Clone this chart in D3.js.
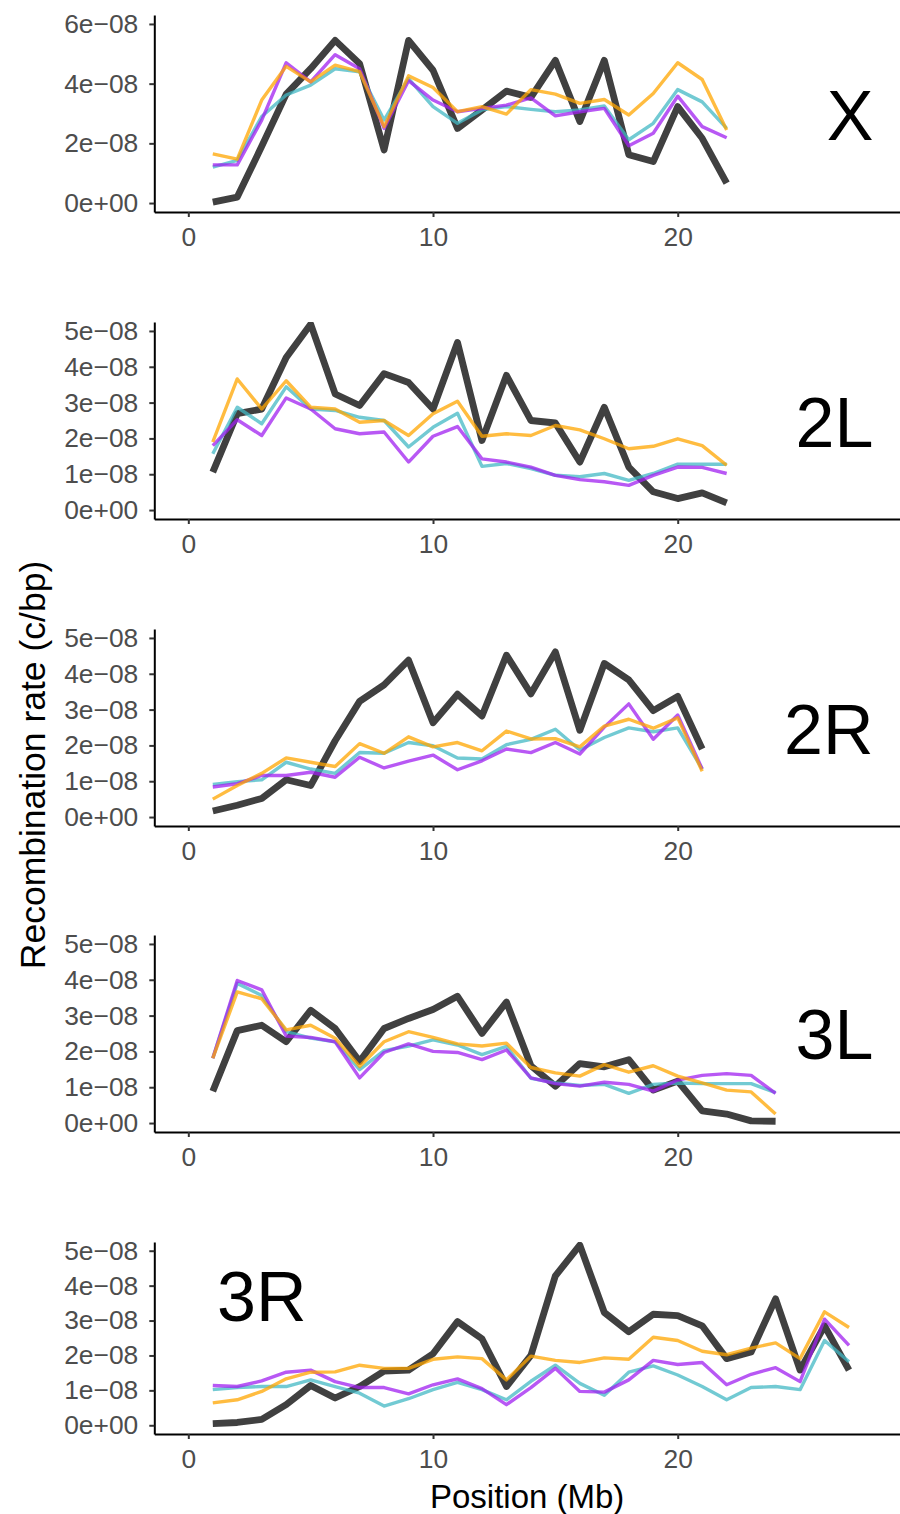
<!DOCTYPE html>
<html>
<head>
<meta charset="utf-8">
<script src="https://cdn.jsdelivr.net/npm/d3@7"></script>
<style>
  body { margin: 0; background: #fff; }
  svg { display: block; font-family: "Liberation Sans", Arial, Helvetica, sans-serif; }
</style>
</head>
<body>
<div id="chart"></div>
<script>
// Recombination rates, in units of 1e-8 c/bp
const positions = [1, 2, 3, 4, 5, 6, 7, 8, 9, 10, 11, 12, 13, 14, 15, 16, 17, 18, 19, 20, 21, 22, 23, 24, 25, 26, 27];
const chromosomes = ["X", "2L", "2R", "3L", "3R"];

const blackX  = [0.03, 0.2, 1.9, 3.65, 4.5, 5.45, 4.67, 1.78, 5.45, 4.45, 2.5, 3.12, 3.75, 3.54, 4.78, 2.73, 4.78, 1.62, 1.39, 3.23, 2.17, 0.67];
const cyanX   = [1.2, 1.43, 2.9, 3.62, 3.95, 4.5, 4.4, 2.78, 4.17, 3.23, 2.67, 3.12, 3.23, 3.14, 3.06, 3.12, 3.25, 2.12, 2.67, 3.8, 3.39, 2.5];
const purpleX = [1.28, 1.28, 2.78, 4.7, 4.06, 4.97, 4.5, 2.5, 4.1, 3.45, 3.06, 3.17, 3.28, 3.52, 2.92, 3.06, 3.17, 1.92, 2.34, 3.58, 2.56, 2.19];
const orangeX = [1.65, 1.47, 3.45, 4.58, 4.06, 4.62, 4.4, 2.56, 4.26, 3.87, 3.06, 3.23, 2.98, 3.8, 3.65, 3.34, 3.47, 2.95, 3.67, 4.7, 4.14, 2.45];

const black2L  = [1.06, 2.69, 2.82, 4.26, 5.19, 3.24, 2.92, 3.81, 3.56, 2.82, 4.68, 1.94, 3.76, 2.5, 2.43, 1.34, 2.87, 1.2, 0.51, 0.32, 0.48, 0.2];
const cyan2L   = [1.57, 2.87, 2.41, 3.44, 2.82, 2.78, 2.59, 2.5, 1.76, 2.31, 2.7, 1.22, 1.3, 1.16, 0.97, 0.93, 1.02, 0.83, 1.02, 1.28, 1.28, 1.28];
const purple2L = [1.8, 2.52, 2.08, 3.13, 2.82, 2.27, 2.13, 2.18, 1.34, 2.06, 2.33, 1.43, 1.34, 1.2, 0.97, 0.85, 0.79, 0.69, 0.97, 1.2, 1.19, 1.02];
const orange2L = [1.9, 3.66, 2.82, 3.61, 2.87, 2.82, 2.45, 2.5, 2.08, 2.69, 3.04, 2.06, 2.13, 2.08, 2.36, 2.24, 1.99, 1.71, 1.78, 1.99, 1.8, 1.25];

const black2R  = [0.17, 0.33, 0.52, 1.04, 0.88, 2.13, 3.23, 3.69, 4.38, 2.63, 3.43, 2.82, 4.52, 3.44, 4.61, 2.42, 4.29, 3.83, 2.97, 3.37, 1.9];
const cyan2R   = [0.91, 0.99, 1.04, 1.53, 1.34, 1.22, 1.8, 1.78, 2.08, 1.99, 1.65, 1.62, 2.02, 2.17, 2.45, 1.87, 2.22, 2.49, 2.38, 2.49, 1.34];
const purple2R = [0.84, 0.93, 1.16, 1.16, 1.25, 1.11, 1.67, 1.37, 1.56, 1.73, 1.32, 1.57, 1.9, 1.8, 2.08, 1.76, 2.51, 3.16, 2.17, 2.85, 1.34];
const orange2R = [0.5, 0.88, 1.22, 1.65, 1.53, 1.41, 2.05, 1.78, 2.24, 1.96, 2.08, 1.85, 2.4, 2.18, 2.19, 1.96, 2.54, 2.73, 2.48, 2.77, 1.28];

const black3L  = [0.89, 2.58, 2.73, 2.27, 3.15, 2.64, 1.72, 2.64, 2.92, 3.17, 3.54, 2.5, 3.38, 1.6, 1.03, 1.66, 1.57, 1.77, 0.92, 1.17, 0.34, 0.25, 0.06, 0.05];
const cyan3L   = [1.81, 3.9, 3.56, 2.55, 2.37, 2.27, 1.49, 2.02, 2.15, 2.32, 2.18, 1.91, 2.14, 1.25, 1.12, 1.05, 1.08, 0.83, 1.08, 1.12, 1.1, 1.1, 1.1, 0.85];
const purple3L = [1.81, 3.98, 3.72, 2.43, 2.39, 2.27, 1.26, 1.97, 2.21, 2.0, 1.97, 1.77, 2.04, 1.26, 1.1, 1.03, 1.14, 1.08, 0.89, 1.2, 1.33, 1.38, 1.33, 0.83];
const orange3L = [1.81, 3.66, 3.47, 2.6, 2.73, 2.37, 1.58, 2.27, 2.55, 2.39, 2.21, 2.15, 2.23, 1.55, 1.4, 1.31, 1.63, 1.42, 1.6, 1.31, 1.12, 0.92, 0.87, 0.25];

const black3R  = [0.05, 0.08, 0.17, 0.59, 1.14, 0.78, 1.11, 1.55, 1.58, 2.05, 2.97, 2.48, 1.11, 2.0, 4.28, 5.16, 3.23, 2.68, 3.18, 3.14, 2.85, 1.91, 2.1, 3.62, 1.58, 2.85, 1.58];
const cyan3R   = [1.02, 1.08, 1.11, 1.11, 1.3, 1.11, 0.92, 0.55, 0.76, 1.02, 1.23, 1.02, 0.73, 1.26, 1.72, 1.2, 0.86, 1.52, 1.7, 1.44, 1.11, 0.73, 1.08, 1.11, 1.02, 2.43, 1.82];
const purple3R = [1.14, 1.11, 1.27, 1.52, 1.58, 1.25, 1.08, 1.08, 0.9, 1.16, 1.33, 1.05, 0.59, 1.08, 1.63, 0.97, 0.95, 1.3, 1.86, 1.74, 1.8, 1.16, 1.46, 1.65, 1.25, 3.04, 2.29];
const orange3R = [0.64, 0.73, 0.97, 1.33, 1.52, 1.53, 1.72, 1.63, 1.63, 1.89, 1.96, 1.91, 1.3, 1.98, 1.86, 1.8, 1.93, 1.89, 2.52, 2.43, 2.12, 2.02, 2.21, 2.36, 1.91, 3.25, 2.8];

// axis limits and ticks
const xLimits = [0, 27.8];
const xTicks = [0, 10, 20];
const yLimitsX = [0, 6];
const yLimitsAuto = [0, 5];
const yTicksX = [0, 2, 4, 6];
const yTicksAuto = [0, 1, 2, 3, 4, 5];

const rates = {
  "X":  { black: blackX,  cyan: cyanX,  purple: purpleX,  orange: orangeX },
  "2L": { black: black2L, cyan: cyan2L, purple: purple2L, orange: orange2L },
  "2R": { black: black2R, cyan: cyan2R, purple: purple2R, orange: orange2R },
  "3L": { black: black3L, cyan: cyan3L, purple: purple3L, orange: orange3L },
  "3R": { black: black3R, cyan: cyan3R, purple: purple3R, orange: orange3R }
};

// layout
const W = 900, H = 1514;
const panelLeft = 154.3, panelRight = 902.6;
const panelTop = [15, 322, 629, 935, 1242];
const panelBottom = [212, 519, 826, 1132, 1434];
const labelPos = {
  "X":  { x: 28, y: 2.96, anchor: "end" },
  "2L": { x: 28, y: 2.46, anchor: "end" },
  "2R": { x: 28, y: 2.46, anchor: "end" },
  "3L": { x: 28, y: 2.49, anchor: "end" },
  "3R": { x: 3,  y: 3.7,  anchor: "middle" }
};

const seriesKeys = ["black", "cyan", "purple", "orange"];
const seriesColor = { black: "#000000", cyan: "#43B8C4", purple: "#A020F0", orange: "#FFA500" };
const seriesWidth = { black: 6.8, cyan: 3.4, purple: 3.4, orange: 3.4 };
const lineAlpha = 0.75;

const tickFont = 26.4, xTitleFont = 33, yTitleFont = 35.5, labelFont = 70;

function expand(lim) {
  const r = lim[1] - lim[0];
  return [lim[0] - 0.05 * r, lim[1] + 0.05 * r];
}

// format like R's scientific labels: 2e-08, 0e+00
function sciLabel(v) {
  if (v === 0) return "0e+00";
  return `${Math.round(v)}e\u221208`;
}

const svg = d3.select("#chart")
  .append("svg")
  .attr("width", W)
  .attr("height", H);

svg.append("rect").attr("width", W).attr("height", H).attr("fill", "#fff");

const x = d3.scaleLinear()
  .domain(expand(xLimits))
  .range([panelLeft, panelRight]);

function styleAxis(g) {
  g.select(".domain").attr("stroke", "#000").attr("stroke-width", 2);
  g.selectAll(".tick line").attr("stroke", "#333333").attr("stroke-width", 2);
  g.selectAll(".tick text")
    .attr("fill", "#4D4D4D")
    .style("font-size", tickFont + "px")
    .style("font-family", "'Liberation Sans', Arial, Helvetica, sans-serif");
}

chromosomes.forEach((chr, p) => {
  const top = panelTop[p], bottom = panelBottom[p];
  const isX = chr === "X";

  const y = d3.scaleLinear()
    .domain(expand(isX ? yLimitsX : yLimitsAuto))
    .range([bottom, top]);

  const clipId = `clip-${p}`;
  svg.append("clipPath").attr("id", clipId)
    .append("rect")
    .attr("x", panelLeft).attr("y", top)
    .attr("width", panelRight - panelLeft).attr("height", bottom - top);

  const plot = svg.append("g").attr("clip-path", `url(#${clipId})`);

  const line = d3.line()
    .x(d => x(d[0]))
    .y(d => y(d[1]));

  seriesKeys.forEach(key => {
    const vals = rates[chr][key];
    const pts = vals.map((v, i) => [positions[i], v]);
    plot.append("path")
      .datum(pts)
      .attr("fill", "none")
      .attr("stroke", seriesColor[key])
      .attr("stroke-opacity", lineAlpha)
      .attr("stroke-width", seriesWidth[key])
      .attr("stroke-linejoin", "round")
      .attr("stroke-linecap", "butt")
      .attr("d", line);
  });

  // chromosome arm label
  const lp = labelPos[chr];
  svg.append("text")
    .attr("x", x(lp.x))
    .attr("y", y(lp.y))
    .attr("dy", "0.36em")
    .attr("text-anchor", lp.anchor)
    .style("font-size", labelFont + "px")
    .attr("fill", "#000")
    .text(chr);

  // axes
  svg.append("g")
    .attr("transform", `translate(${panelLeft},0)`)
    .call(d3.axisLeft(y)
      .tickValues(isX ? yTicksX : yTicksAuto)
      .tickFormat(sciLabel)
      .tickSize(5)
      .tickPadding(11)
      .tickSizeOuter(0))
    .call(styleAxis);

  svg.append("g")
    .attr("transform", `translate(0,${bottom})`)
    .call(d3.axisBottom(x)
      .tickValues(xTicks)
      .tickFormat(d3.format("d"))
      .tickSize(5)
      .tickPadding(10)
      .tickSizeOuter(0))
    .call(styleAxis);
});

// axis titles
svg.append("text")
  .attr("transform", "translate(45,765) rotate(-90)")
  .attr("text-anchor", "middle")
  .style("font-size", yTitleFont + "px")
  .attr("fill", "#000")
  .text("Recombination rate (c/bp)");

svg.append("text")
  .attr("x", (panelLeft + W) / 2)
  .attr("y", 1508)
  .attr("text-anchor", "middle")
  .style("font-size", xTitleFont + "px")
  .attr("fill", "#000")
  .text("Position (Mb)");
</script>
</body>
</html>
